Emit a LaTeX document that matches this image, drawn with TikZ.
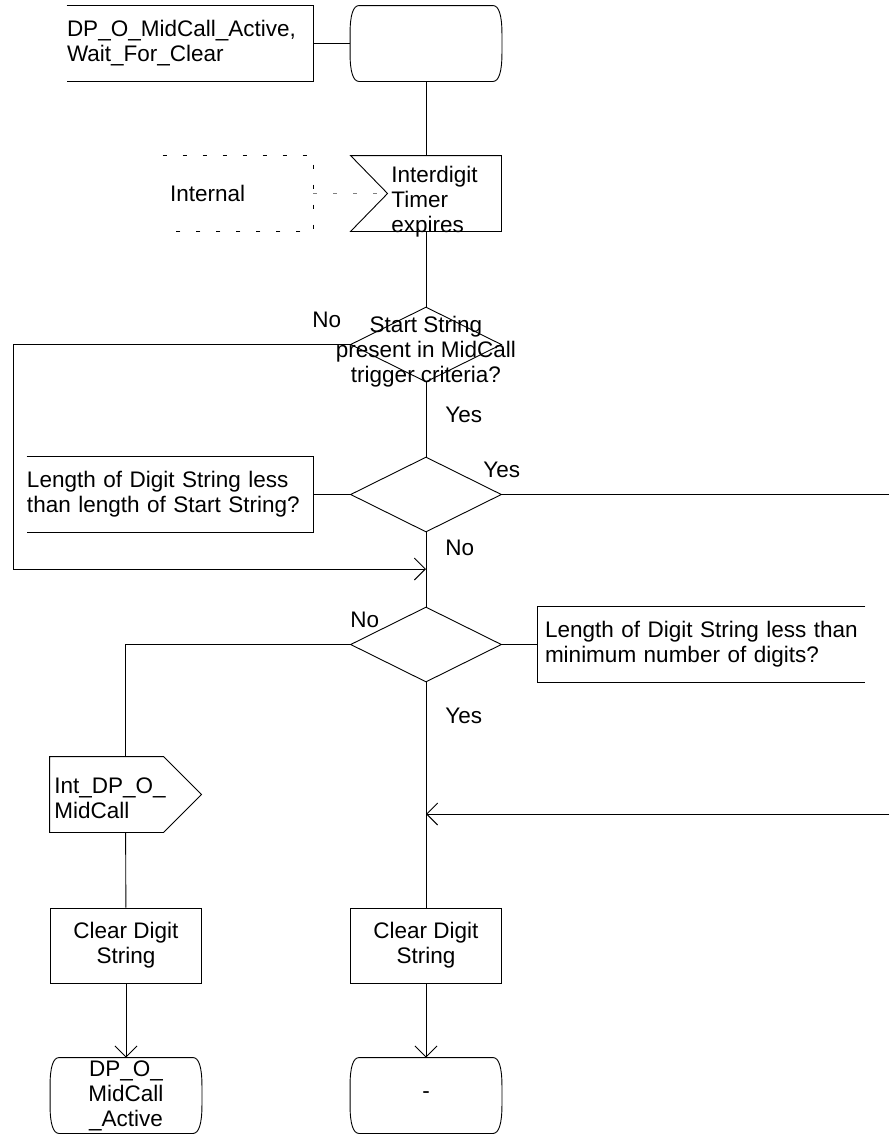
\documentclass[tikz,border=0pt]{standalone}
\usepackage{fontspec}
\setmainfont{Liberation Sans}
\usetikzlibrary{shapes.geometric,arrows.meta}

\newcommand{\stateoutline}[1]{%
  \draw ([xshift=9pt]#1.north west) -- ([xshift=-9pt]#1.north east)
    .. controls ([xshift=-3pt]#1.north east) and ([yshift=-10pt]#1.north east) .. ([yshift=-28pt]#1.north east)
    -- ([yshift=28pt]#1.south east)
    .. controls ([yshift=10pt]#1.south east) and ([xshift=-3pt]#1.south east) .. ([xshift=-9pt]#1.south east)
    -- ([xshift=9pt]#1.south west)
    .. controls ([xshift=3pt]#1.south west) and ([yshift=10pt]#1.south west) .. ([yshift=28pt]#1.south west)
    -- ([yshift=-28pt]#1.north west)
    .. controls ([yshift=-10pt]#1.north west) and ([xshift=3pt]#1.north west) .. cycle;}
\newcommand{\inoutline}[1]{%
  \draw (#1.north west) -- (#1.north east) -- (#1.south east) -- (#1.south west)
    -- ([xshift=37pt]#1.west) -- cycle;}
\newcommand{\outoutline}[1]{%
  \draw (#1.north west) -- ([xshift=-38pt]#1.north east) -- (#1.east)
    -- ([xshift=-38pt]#1.south east) -- (#1.south west) -- cycle;}

\begin{document}
\begin{tikzpicture}[x=1pt,y=-1pt,line width=0.9pt,
    every node/.style={inner sep=0pt,font=\fontsize{22.5}{25}\selectfont},
    box/.style={draw,minimum width=151pt,minimum height=75pt,align=center},
    statesym/.style={minimum width=151pt,minimum height=75pt,align=center},
    decision/.style={draw,diamond,minimum width=151pt,minimum height=75pt},
    note/.style={minimum height=75pt,align=left},
    dashline/.style={dash pattern=on 4pt off 16pt},
    flow/.style={-{Straight Barb[length=11pt,width=22pt]}}]
                \useasboundingbox (0,0) rectangle (889,1138);

                \node[note,text width=246pt] (1) at (190,43.5) {DP\_O\_MidCall\_Active,\\Wait\_For\_Clear};
                \node[statesym] (2) at (426,43.5) {};
                \node[note,text width=136pt,inner xsep=7pt] (3) at (238,193.5) {Internal};
                \node[statesym,minimum width=150pt] (4) at (426,193.5) {};
                \node[decision] (5) at (426,344.5) {};
                \node[note,text width=286pt] (6) at (170,494.5) {Length of Digit String less\\than length of Start String?};
                \node[decision] (7) at (426,494.5) {};
                \node[decision] (8) at (426,644.5) {};
                \node[note,text width=313pt,inner xsep=7pt] (9) at (701.5,644.5) {Length of Digit String less than\\minimum number of digits?};
                \node[statesym] (10) at (125.5,794.5) {};
                \node[box] (11) at (126,945.5) {Clear Digit\\String};
                \node[box] (12) at (426,945.5) {Clear Digit\\String};
                \node[statesym] (13) at (126,1095.5) {DP\_O\_\\MidCall\\\_Active};
                \node[statesym] (14) at (426,1095.5) {-};

                \node[anchor=north west,align=left] (15) at (391,166) {Interdigit\\Timer\\expires};
                \node[align=center] (16) at (426,351.5) {Start String\\present in MidCall\\trigger criteria?};
                \node[anchor=north west,align=left] (17) at (54,777) {Int\_DP\_O\_\\MidCall};

                \node[anchor=base west] (18) at (312,327) {No};
                \node[anchor=base west] (19) at (445,422) {Yes};
                \node[anchor=base west] (20) at (483,477) {Yes};
                \node[anchor=base west] (21) at (445,555) {No};
                \node[anchor=base west] (22) at (350,627) {No};
                \node[anchor=base west] (23) at (445,723) {Yes};

                \coordinate (notch) at (388,193.5);
                \coordinate (join1) at (426,569);
                \coordinate (join2) at (426,814);
                \coordinate (exit1) at (889,494.5);
                \coordinate (entry1) at (889,814);

                \stateoutline{2}
                \stateoutline{13}
                \stateoutline{14}
                \inoutline{4}
                \outoutline{10}
                \draw (1.north west) -- (1.north east) -- (1.south east) -- (1.south west);
                \draw (6.north west) -- (6.north east) -- (6.south east) -- (6.south west);
                \draw (9.north east) -- (9.north west) -- (9.south west) -- (9.south east);
                \draw[dashline] (3.north west) -- (3.north east) -- (3.south east) -- (3.south west);

                \path [-] (1) edge (2);
                \path [-] (2) edge (4);
                \path [-,dashline,gray] (3) edge (notch);
                \path [-] (4) edge (5);
                \path [-] (5) edge (7);
                \draw[flow] (5.west) -- (13,344.5) |- (join1);
                \path [-] (7) edge (6);
                \path [-] (7) edge (exit1);
                \path [-] (7) edge (8);
                \path [-] (8) edge (9);
                \draw (8.west) -| (10.north);
                \path [-] (10) edge (11);
                \path [-] (8) edge (12);
                \draw[flow] (entry1) -- (join2);
                \path [flow] (11) edge (13);
                \path [flow] (12) edge (14);
            \end{tikzpicture}
\end{document}
